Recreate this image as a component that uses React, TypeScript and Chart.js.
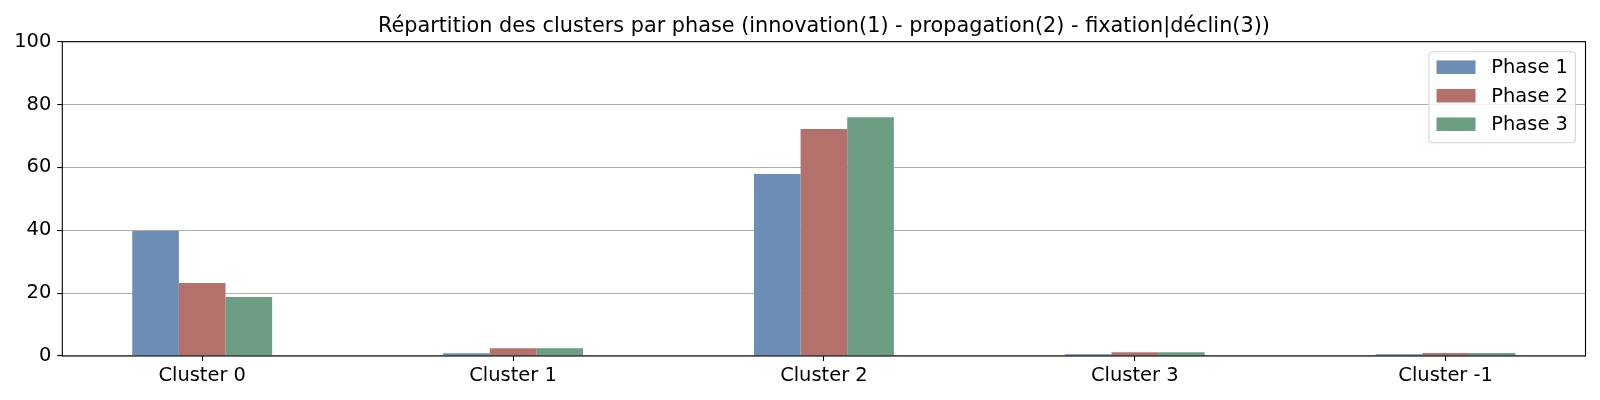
import React, { useEffect, useRef } from "react";
import { Chart, registerables } from "chart.js";

Chart.register(...registerables);

const titleText =
  "Répartition des clusters par phase (innovation(1) - propagation(2) - fixation|déclin(3))";
const categories = ["Cluster 0", "Cluster 1", "Cluster 2", "Cluster 3", "Cluster -1"];
const phase1 = [39.8, 0.85, 57.9, 0.55, 0.55];
const phase2 = [23.2, 2.45, 72.2, 1.2, 0.95];
const phase3 = [18.8, 2.45, 76.0, 1.2, 0.95];
const seriesLabels = ["Phase 1", "Phase 2", "Phase 3"];
const seriesColors = ["#6c8db4", "#b4706b", "#6b9e83"];
const yMin = 0;
const yMax = 100;
const yStep = 20;

const FONT = "'DejaVu Sans', sans-serif";
const FS = 19.44;
const TITLE_FS = 20.8;

const boxPlugin = {
  id: "boxPlugin",
  afterDatasetsDraw(chart: any) {
    const { ctx, chartArea } = chart;
    ctx.save();
    ctx.strokeStyle = "#000";
    ctx.lineWidth = 1.1;
    ctx.strokeRect(chartArea.left, chartArea.top, chartArea.right - chartArea.left, chartArea.bottom - chartArea.top);
    ctx.restore();
  },
};

const titlePlugin = {
  id: "axesTitle",
  afterDraw(chart: any) {
    const { ctx, chartArea } = chart;
    ctx.save();
    ctx.font = `${TITLE_FS}px ${FONT}`;
    ctx.fillStyle = "#000";
    ctx.textAlign = "center";
    ctx.textBaseline = "alphabetic";
    ctx.fillText(titleText, (chartArea.left + chartArea.right) / 2, chartArea.top - 9.4);
    ctx.restore();
  },
};

const legendPlugin = {
  id: "mplLegend",
  afterDraw(chart: any) {
    const { ctx, chartArea } = chart;
    const ds = chart.data.datasets;
    ctx.save();
    ctx.font = `${FS}px ${FONT}`;
    let maxW = 0;
    ds.forEach((d: any) => {
      maxW = Math.max(maxW, ctx.measureText(d.label).width);
    });
    const padL = 7.6;
    const patchW = 39;
    const patchH = 13.5;
    const gap = 15.8;
    const padR = 7.6;
    const rowH = 28.5;
    const boxW = padL + patchW + gap + maxW + padR;
    const boxH = 91;
    const right = chartArea.right - 10;
    const top = chartArea.top + 10;
    const left = right - boxW;
    const r = 4;
    ctx.beginPath();
    ctx.moveTo(left + r, top);
    ctx.lineTo(left + boxW - r, top);
    ctx.quadraticCurveTo(left + boxW, top, left + boxW, top + r);
    ctx.lineTo(left + boxW, top + boxH - r);
    ctx.quadraticCurveTo(left + boxW, top + boxH, left + boxW - r, top + boxH);
    ctx.lineTo(left + r, top + boxH);
    ctx.quadraticCurveTo(left, top + boxH, left, top + boxH - r);
    ctx.lineTo(left, top + r);
    ctx.quadraticCurveTo(left, top, left + r, top);
    ctx.closePath();
    ctx.fillStyle = "rgba(255,255,255,0.8)";
    ctx.fill();
    ctx.strokeStyle = "#d6d6d6";
    ctx.lineWidth = 1.1;
    ctx.stroke();
    ds.forEach((d: any, i: number) => {
      const cy = top + 15.5 + i * rowH;
      ctx.fillStyle = d.backgroundColor;
      ctx.fillRect(left + padL, cy - patchH / 2, patchW, patchH);
      ctx.fillStyle = "#000";
      ctx.textBaseline = "middle";
      ctx.textAlign = "left";
      ctx.fillText(d.label, left + padL + patchW + gap, cy + 1);
    });
    ctx.restore();
  },
};

export default function App() {
  const ref = useRef<HTMLCanvasElement>(null);
  useEffect(() => {
    if (!ref.current) return;
    Chart.defaults.color = "#000";
    Chart.defaults.font.family = FONT;
    Chart.defaults.font.size = FS;
    const series = [phase1, phase2, phase3];
    const chart = new Chart(ref.current, {
      type: "bar",
      data: {
        datasets: series.map((vals, s) => ({
          label: seriesLabels[s],
          data: vals.map((v, i) => ({ x: i, y: v })),
          backgroundColor: seriesColors[s],
          borderWidth: 0,
          categoryPercentage: 0.45,
          barPercentage: 1.0,
        })),
      },
      options: {
        animation: false,
        responsive: true,
        maintainAspectRatio: false,
        layout: { padding: { left: 0, right: 14.5, top: 41.7, bottom: 0 } },
        plugins: {
          legend: { display: false },
          tooltip: { enabled: false },
          title: { display: false },
        },
        scales: {
          x: {
            type: "linear",
            min: -0.45,
            max: categories.length - 1 + 0.45,
            offset: false,
            border: { display: false },
            grid: {
              display: true,
              offset: false,
              drawOnChartArea: false,
              drawTicks: true,
              tickLength: 5,
              tickColor: "#000",
              tickWidth: 1.1,
            },
            ticks: {
              stepSize: 1,
              includeBounds: false,
              autoSkip: false,
              maxRotation: 0,
              padding: 3,
              color: "#000",
              font: { family: FONT, size: FS },
              callback: (v: any) => {
                const n = Number(v);
                return Number.isInteger(n) && categories[n] !== undefined ? categories[n] : "";
              },
            },
            afterFit: (scale: any) => {
              scale.height = 44;
            },
          },
          y: {
            min: yMin,
            max: yMax,
            border: { display: false },
            grid: {
              color: "#b0b0b0",
              lineWidth: 1.1,
              drawTicks: true,
              tickLength: 5,
              tickColor: "#000",
              tickWidth: 1.1,
            },
            ticks: {
              stepSize: yStep,
              padding: 6,
              color: "#000",
              font: { family: FONT, size: FS },
            },
            afterFit: (scale: any) => {
              scale.width = 62.3;
            },
          },
        },
      },
      plugins: [boxPlugin, titlePlugin, legendPlugin],
    });
    return () => chart.destroy();
  }, []);
  return (
    <div style={{ position: "fixed", left: 0, top: 0, width: 1600, height: 400, background: "#fff" }}>
      <canvas ref={ref} />
    </div>
  );
}
